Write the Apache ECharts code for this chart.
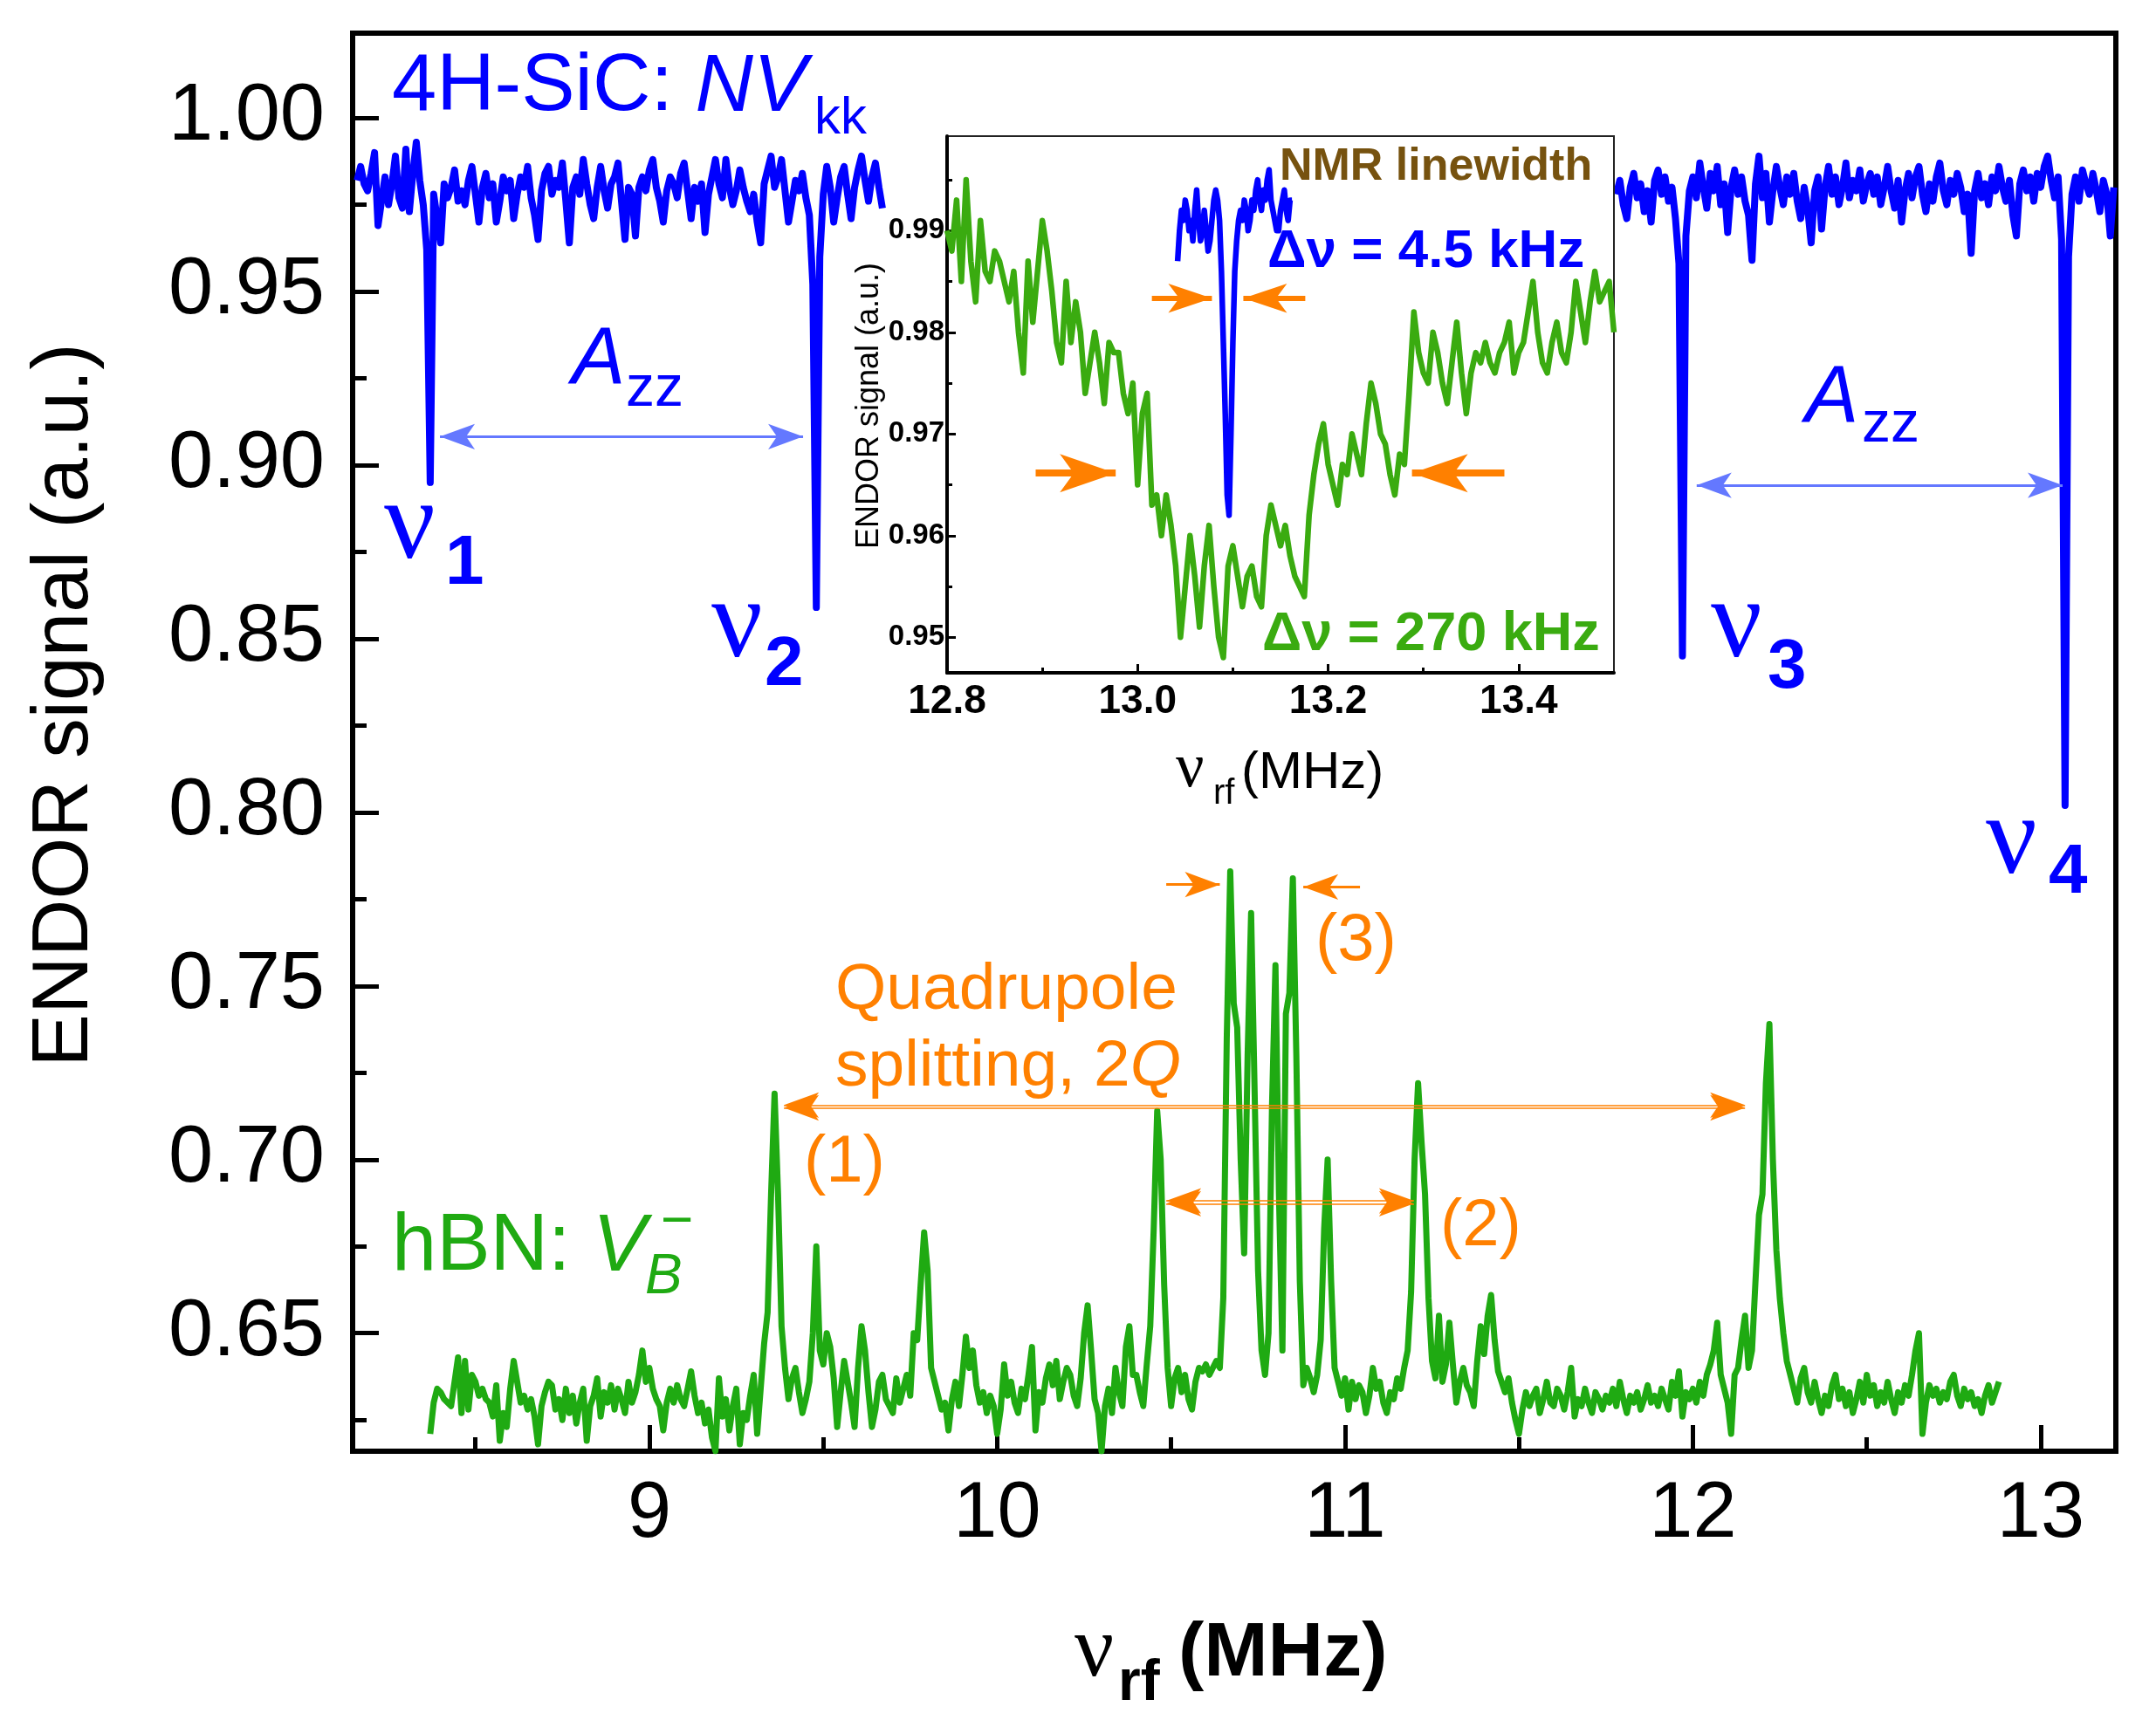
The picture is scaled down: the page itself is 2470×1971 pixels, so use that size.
<!DOCTYPE html>
<html>
<head>
<meta charset="utf-8">
<title>ENDOR: 4H-SiC NV and hBN VB-</title>
<script src="https://cdn.jsdelivr.net/npm/echarts@6/dist/echarts.min.js"></script>
<style>
  html, body { margin: 0; padding: 0; background: #fff; }
  #chart { width: 2470px; height: 1971px; }
</style>
</head>
<body>
<div id="chart"></div>
<script>
// axis ticks
const mainXTicks = [9, 10, 11, 12, 13]
const mainXMinor = [8.5, 9.5, 10.5, 11.5, 12.5]
const mainYTicks = [0.65, 0.70, 0.75, 0.80, 0.85, 0.90, 0.95, 1.00]
const mainYMinor = [0.625, 0.675, 0.725, 0.775, 0.825, 0.875, 0.925, 0.975]
const insetXTicks = [12.8, 13.0, 13.2, 13.4]
const insetXMinor = [12.9, 13.1, 13.3]
const insetYTicks = [0.95, 0.96, 0.97, 0.98, 0.99]
const insetYMinor = [0.955, 0.965, 0.975, 0.985, 0.995]

// 4H-SiC NVkk sweep, 0.01 MHz steps
const sicLeftStart = 8.16
const sicLeft = [
  .982, .986, .981, .979, .984, .990, .969, .976, .983, .975,
  .981, .989, .977, .974, .991, .973, .984, .993, .982, .975,
  .962, .895, .978, .971, .964, .981, .977, .980, .985, .976,
  .979, .975, .982, .986, .978, .970, .980, .984, .977, .981,
  .970, .976, .983, .979, .982, .971, .978, .983, .980, .986,
  .977, .972, .965, .979, .984, .986, .978, .982, .980, .987,
  .976, .964, .980, .983, .978, .988, .981, .975, .971, .980,
  .986, .979, .974, .981, .983, .987, .976, .965, .980, .978,
  .966, .980, .983, .979, .985, .988, .980, .976, .970, .979,
  .983, .981, .977, .984, .987, .979, .971, .980, .976, .981,
  .967, .978, .983, .988, .981, .977, .988, .980, .975, .979,
  .985, .980, .976, .973, .978, .970, .964, .981, .985, .989,
  .980, .983, .988, .979, .970, .976, .982, .979, .984, .977,
  .972, .952, .859, .960, .978, .986, .980, .970, .977, .983,
  .986, .978, .971, .980, .985, .989, .982, .976, .983, .987,
  .980, .974
]
const sicRightStart = 11.78
const sicRight = [
  .978, .982, .975, .971, .980, .984, .977, .981, .973, .979,
  .970, .982, .985, .978, .983, .976, .980, .971, .958, .845,
  .966, .979, .983, .977, .987, .980, .974, .984, .979, .986,
  .975, .981, .967, .980, .985, .978, .983, .976, .972, .959,
  .981, .989, .977, .984, .970, .979, .986, .980, .975, .983,
  .978, .984, .976, .971, .980, .974, .964, .979, .983, .968,
  .980, .986, .978, .983, .975, .980, .987, .977, .982, .979,
  .985, .976, .981, .984, .978, .983, .975, .980, .986, .979,
  .974, .982, .970, .979, .984, .977, .983, .986, .978, .973,
  .981, .976, .983, .987, .979, .975, .982, .978, .984, .980,
  .973, .978, .961, .979, .984, .977, .981, .975, .983, .979,
  .986, .980, .976, .982, .972, .966, .981, .985, .979, .983,
  .976, .984, .980, .986, .989, .982, .977, .983, .965, .802,
  .960, .978, .983, .976, .985, .981, .978, .984, .979, .973,
  .982, .978, .966, .980
]

// hBN VB- sweep, 0.01 MHz steps from 8.37 MHz
const hbnStart = 8.37
const hbn = [
  .621, .630, .634,
  .633, .631, .630, .629, .636, .643, .627, .642, .628, .638,
  .636, .632, .634, .631, .630, .626, .635, .619, .627, .623,
  .634, .642, .636, .630, .632, .628, .631, .626, .618, .629,
  .633, .636, .635, .628, .631, .625, .634, .627, .632, .624,
  .630, .634, .619, .629, .632, .637, .626, .633, .630, .635,
  .628, .634, .631, .627, .636, .630, .633, .638, .645, .636,
  .640, .634, .631, .629, .622, .630, .634, .630, .635, .631,
  .629, .634, .639, .632, .627, .630, .624, .628, .620, .616,
  .637, .626, .631, .622, .629, .634, .618, .627, .625, .632,
  .638, .621, .634, .647, .656, .690, .719, .690, .652, .640,
  .631, .637, .640, .633, .627, .631, .636, .650, .675, .645,
  .641, .650, .646, .637, .623, .633, .642, .636, .630, .623,
  .640, .652, .645, .633, .623, .628, .636, .638, .631, .629,
  .627, .637, .630, .634, .638, .632, .650, .648, .664, .679,
  .668, .640, .636, .632, .628, .630, .622, .631, .636, .629,
  .638, .649, .640, .645, .635, .630, .633, .627, .632, .629,
  .621, .628, .641, .632, .636, .630, .627, .634, .631, .638,
  .646, .622, .633, .630, .637, .641, .635, .642, .631, .636,
  .640, .638, .632, .629, .637, .650, .658, .645, .631, .627,
  .616, .629, .634, .627, .640, .633, .629, .646, .652, .638,
  .638, .633, .629, .641, .652, .680, .714, .700, .664, .640,
  .629, .637, .640, .633, .638, .631, .628, .636, .640, .639,
  .641, .638, .640, .642, .640, .660, .735, .783, .745, .738,
  .700, .673, .730, .771, .720, .668, .645, .638, .650, .715,
  .756, .690, .645, .742, .748, .781, .730, .665, .635, .640,
  .637, .633, .638, .648, .680, .700, .665, .640, .636, .632,
  .637, .628, .636, .631, .635, .633, .627, .632, .640, .634,
  .636, .630, .627, .633, .631, .637, .634, .640, .645, .662,
  .700, .722, .705, .690, .660, .642, .637, .655, .636, .641,
  .653, .641, .630, .636, .640, .635, .633, .629, .642, .652,
  .644, .655, .661, .648, .639, .636, .633, .637, .630, .625,
  .621, .628, .633, .629, .632, .634, .627, .631, .636, .630,
  .629, .634, .632, .628, .633, .640, .626, .631, .629, .634,
  .630, .627, .633, .631, .628, .632, .630, .634, .629, .636,
  .631, .627, .632, .630, .633, .628, .631, .635, .630, .632,
  .629, .634, .631, .628, .636, .632, .639, .626, .633, .631,
  .634, .630, .636, .632, .638, .641, .645, .653, .638, .634,
  .630, .621, .638, .640, .648, .655, .640, .645, .665, .684,
  .690, .722, .739, .700, .674, .660, .650, .642, .638, .634,
  .630, .637, .640, .633, .630, .636, .631, .627, .632, .629,
  .635, .638, .631, .634, .629, .633, .627, .631, .636, .630,
  .638, .632, .635, .629, .633, .630, .636, .631, .627, .633,
  .630, .635, .632, .638, .645, .650, .621, .630, .635, .632,
  .634, .630, .633, .631, .636, .638, .632, .629, .634, .631,
  .633, .629, .631, .627, .632, .635, .630, .633, .636
]

// inset: hBN close-up, 0.005 MHz steps from 12.8 MHz
const insetHbnStart = 12.8
const insetHbn = [
  .990, .988, .993, .985, .995, .987, .983, .991, .986, .985,
  .988, .987, .985, .983, .986, .980, .976, .987, .981, .986,
  .991, .988, .984, .979, .977, .985, .979, .983, .980, .974,
  .977, .980, .977, .973, .979, .978, .978, .974, .972, .975,
  .965, .972, .974, .963, .964, .960, .964, .961, .957, .950,
  .955, .960, .956, .951, .957, .961, .955, .950, .948, .957,
  .959, .956, .953, .956, .957, .954, .953, .960, .963, .961,
  .959, .961, .958, .956, .955, .954, .962, .966, .969, .971,
  .967, .965, .963, .967, .966, .970, .968, .966, .971, .975,
  .973, .970, .969, .966, .964, .968, .967, .974, .982, .978,
  .976, .975, .980, .978, .975, .973, .977, .981, .976, .972,
  .976, .978, .977, .979, .977, .976, .978, .979, .981, .976,
  .978, .979, .982, .985, .980, .977, .976, .979, .981, .978,
  .977, .980, .985, .982, .979, .983, .986, .983, .984, .985,
  .980
]

// inset: 4H-SiC line, 0.002 MHz steps from 13.042 MHz
const insetSicStart = 13.042
const insetSic = [
  .987, .990, .992, .991, .993, .992, .990, .991, .989, .992,
  .994, .991, .989, .990, .992, .990, .988, .989, .991, .993,
  .994, .993, .991, .986, .979, .972, .964, .962, .970, .979,
  .986, .989, .991, .992, .991, .993, .992, .990, .991, .993,
  .992, .994, .995, .993, .992, .994, .993, .995, .996, .993,
  .992, .991, .990, .990, .992, .993, .994, .992, .991, .993,
  .993
]

const BLUE = '#0000ff'
const GREEN = '#1faa12'
const GREEN_INSET = '#3aab10'
const ORANGE = '#ff8000'
const ARROW_BLUE = '#6478ff'
const BROWN = '#76520f'
const SANS = 'Liberation Sans'
const SERIF = 'Liberation Serif'

function sweep(start, step, values) {
  return values.map((v, i) => [Math.round((start + i * step) * 10000) / 10000, v])
}

function arrow(x1, y1, x2, y2, opts) {
  opts = opts || {}
  let from = { coord: [x1, y1] }
  if (!opts.both) from.symbol = 'none'
  if (opts.lineStyle) from.lineStyle = opts.lineStyle
  return [from, { coord: [x2, y2] }]
}

function valueAxis(grid, pos, min, max, extra) {
  return Object.assign({
    type: 'value', gridIndex: grid, position: pos, min: min, max: max,
    splitLine: { show: false }
  }, extra)
}

function majorAxis(grid, pos, min, max, ticks, tickLen, lineW, label) {
  return valueAxis(grid, pos, min, max, {
    axisLine: { onZero: false, lineStyle: { color: '#000', width: lineW } },
    axisTick: { inside: true, length: tickLen, customValues: ticks, lineStyle: { color: '#000', width: Math.max(2, lineW - 1) } },
    axisLabel: Object.assign({ color: '#000', fontFamily: SANS, customValues: ticks }, label)
  })
}

function minorAxis(grid, pos, min, max, ticks, tickLen, w) {
  return valueAxis(grid, pos, min, max, {
    axisLine: { show: false },
    axisTick: { inside: true, length: tickLen, customValues: ticks, lineStyle: { color: '#000', width: w } },
    axisLabel: { show: false }
  })
}

function txt(x, y, text, size, color, style, rotation) {
  return {
    type: 'text', x: x, y: y, z: 100, silent: true, rotation: rotation || 0,
    style: Object.assign({
      text: text, fontSize: size, fontFamily: SANS, fill: color,
      align: 'left', verticalAlign: 'middle'
    }, style || {})
  }
}

const italic = { fontStyle: 'italic' }
const bold = { fontWeight: 'bold' }
const nu = { fontFamily: SERIF }

const notes = [
  // axis titles
  txt(75, 808, 'ENDOR signal (a.u.)', 91, '#000', { align: 'center' }, Math.PI / 2),
  txt(1231, 1894, 'ν', 100, '#000', { fontFamily: SERIF }),
  txt(1281, 1930, 'rf', 66, '#000', bold),
  txt(1350, 1896, '(MHz)', 88, '#000', bold),
  // inset titles
  txt(996, 465, 'ENDOR signal (a.u.)', 36, '#000', { align: 'center' }, Math.PI / 2),
  txt(1347, 882, 'ν', 72, '#000', { fontFamily: SERIF }),
  txt(1390, 910, 'rf', 40, '#000'),
  txt(1422, 886, '(MHz)', 60, '#000'),
  // 4H-SiC labels
  txt(449, 101, '{n|4H-SiC: }{i|NV}', 92, BLUE, {
    rich: {
      n: { fontSize: 92, fontFamily: SANS, fill: BLUE },
      i: { fontSize: 92, fontFamily: SANS, fill: BLUE, fontStyle: 'italic' }
    }
  }),
  txt(933, 136, 'kk', 60, BLUE),
  txt(655, 414, 'A', 92, BLUE, italic),
  txt(717, 447, 'zz', 66, BLUE),
  txt(2068, 458, 'A', 92, BLUE, italic),
  txt(2133, 488, 'zz', 66, BLUE),
  txt(440, 605, 'ν', 130, BLUE, nu),
  txt(510, 647, '1', 80, BLUE, bold),
  txt(815, 718, 'ν', 130, BLUE, nu),
  txt(876, 763, '2', 80, BLUE, bold),
  txt(1960, 718, 'ν', 130, BLUE, nu),
  txt(2025, 766, '3', 80, BLUE, bold),
  txt(2275, 966, 'ν', 130, BLUE, nu),
  txt(2347, 1001, '4', 80, BLUE, bold),
  // hBN labels
  txt(957, 1135, 'Quadrupole', 75, ORANGE),
  txt(957, 1223, '{n|splitting, 2}{i|Q}', 75, ORANGE, {
    rich: {
      n: { fontSize: 75, fontFamily: SANS, fill: ORANGE },
      i: { fontSize: 75, fontFamily: SANS, fill: ORANGE, fontStyle: 'italic' }
    }
  }),
  txt(921, 1333, '(1)', 76, ORANGE),
  txt(1650, 1406, '(2)', 76, ORANGE),
  txt(1507, 1079, '(3)', 76, ORANGE),
  txt(449, 1430, '{n|hBN: }{i|V}', 92, GREEN, {
    rich: {
      n: { fontSize: 92, fontFamily: SANS, fill: GREEN },
      i: { fontSize: 92, fontFamily: SANS, fill: GREEN, fontStyle: 'italic' }
    }
  }),
  txt(739, 1464, 'B', 64, GREEN, italic),
  txt(757, 1401, '−', 64, GREEN),
  // inset labels
  txt(1466, 192, 'NMR linewidth', 52, BROWN, bold),
  txt(1452, 289, 'Δν = 4.5 kHz', 62, BLUE, bold),
  txt(1446, 728, 'Δν = 270 kHz', 63, GREEN_INSET, bold)
]

const markBase = { silent: true, animation: false, label: { show: false }, emphasis: { disabled: true } }

const chart = echarts.init(document.getElementById('chart'))
const option = {
  animation: false,
  backgroundColor: '#fff',
  textStyle: { fontFamily: SANS },
  grid: [
    { left: 404, top: 38, width: 2020, height: 1625, show: true, borderColor: '#000', borderWidth: 6, backgroundColor: 'transparent' },
    { left: 1085, top: 156, width: 764, height: 615, show: true, borderColor: '#222', borderWidth: 2, backgroundColor: '#fff', z: 5 }
  ],
  xAxis: [
    majorAxis(0, 'bottom', 8.147, 13.216, mainXTicks, 30, 6, { fontSize: 90, margin: 28, formatter: v => String(v) }),
    minorAxis(0, 'bottom', 8.147, 13.216, mainXMinor, 16, 5),
    Object.assign(majorAxis(1, 'bottom', 12.8, 13.5, insetXTicks, 10, 4, { fontSize: 46, fontWeight: 'bold', margin: 10, formatter: v => v.toFixed(1) }), { z: 6 }),
    Object.assign(minorAxis(1, 'bottom', 12.8, 13.5, insetXMinor, 6, 3), { z: 6 })
  ],
  yAxis: [
    majorAxis(0, 'left', 0.616, 1.0244, mainYTicks, 30, 6, { fontSize: 92, margin: 32, formatter: v => v.toFixed(2) }),
    minorAxis(0, 'left', 0.616, 1.0244, mainYMinor, 16, 5),
    Object.assign(majorAxis(1, 'left', 0.9465, 0.9993, insetYTicks, 10, 4, { fontSize: 33, fontWeight: 'bold', margin: 3, formatter: v => v.toFixed(2) }), { z: 6 }),
    Object.assign(minorAxis(1, 'left', 0.9465, 0.9993, insetYMinor, 6, 3), { z: 6 })
  ],
  series: [
    {
      type: 'line', name: '4H-SiC left', xAxisIndex: 0, yAxisIndex: 0,
      data: sweep(sicLeftStart, 0.01, sicLeft), symbol: 'none',
      lineStyle: { color: BLUE, width: 8, join: 'round' },
      markLine: Object.assign({}, markBase, {
        symbol: ['arrow', 'arrow'], symbolSize: [22, 40],
        lineStyle: { color: ARROW_BLUE, width: 3, type: 'solid' },
        data: [arrow(8.398, 0.9082, 9.442, 0.9082, { both: true })]
      })
    },
    {
      type: 'line', name: '4H-SiC right', xAxisIndex: 0, yAxisIndex: 0,
      data: sweep(sicRightStart, 0.01, sicRight), symbol: 'none',
      lineStyle: { color: BLUE, width: 8, join: 'round' },
      markLine: Object.assign({}, markBase, {
        symbol: ['arrow', 'arrow'], symbolSize: [22, 40],
        lineStyle: { color: ARROW_BLUE, width: 3, type: 'solid' },
        data: [arrow(12.011, 0.8942, 13.063, 0.8942, { both: true })]
      })
    },
    {
      type: 'line', name: 'hBN', xAxisIndex: 0, yAxisIndex: 0,
      data: sweep(hbnStart, 0.01, hbn), symbol: 'none',
      lineStyle: { color: GREEN, width: 7, join: 'round' },
      markLine: Object.assign({}, markBase, {
        symbol: ['arrow', 'arrow'], symbolSize: [22, 40],
        lineStyle: { color: ORANGE, width: 1.6, type: 'solid' },
        data: [
          arrow(9.387, 0.7157, 12.15, 0.7157, { both: true }),
          arrow(9.387, 0.7149, 12.15, 0.7149, { both: true }),
          arrow(10.486, 0.6881, 11.198, 0.6881, { both: true }),
          arrow(10.486, 0.6873, 11.198, 0.6873, { both: true }),
          arrow(10.486, 0.7792, 10.64, 0.7792, { lineStyle: { width: 3 } }),
          arrow(11.043, 0.7785, 10.88, 0.7785, { lineStyle: { width: 3 } })
        ]
      })
    },
    {
      type: 'line', name: 'hBN inset', xAxisIndex: 2, yAxisIndex: 2, z: 7,
      data: sweep(insetHbnStart, 0.005, insetHbn), symbol: 'none',
      lineStyle: { color: GREEN_INSET, width: 6.5, join: 'round' },
      markLine: Object.assign({}, markBase, {
        symbol: ['none', 'arrow'], symbolSize: [33, 64],
        lineStyle: { color: ORANGE, width: 8, type: 'solid' },
        data: [
          arrow(12.893, 0.96614, 12.977, 0.96614),
          arrow(13.385, 0.96614, 13.288, 0.96614)
        ]
      })
    },
    {
      type: 'line', name: '4H-SiC inset', xAxisIndex: 2, yAxisIndex: 2, z: 8,
      data: sweep(insetSicStart, 0.002, insetSic), symbol: 'none',
      lineStyle: { color: BLUE, width: 6.5, join: 'round' },
      markLine: Object.assign({}, markBase, {
        symbol: ['none', 'arrow'], symbolSize: [25, 50],
        lineStyle: { color: ORANGE, width: 6, type: 'solid' },
        data: [
          arrow(13.015, 0.98335, 13.078, 0.98335),
          arrow(13.176, 0.98335, 13.111, 0.98335)
        ]
      })
    }
  ],
  graphic: notes
}
chart.setOption(option)
</script>
</body>
</html>
